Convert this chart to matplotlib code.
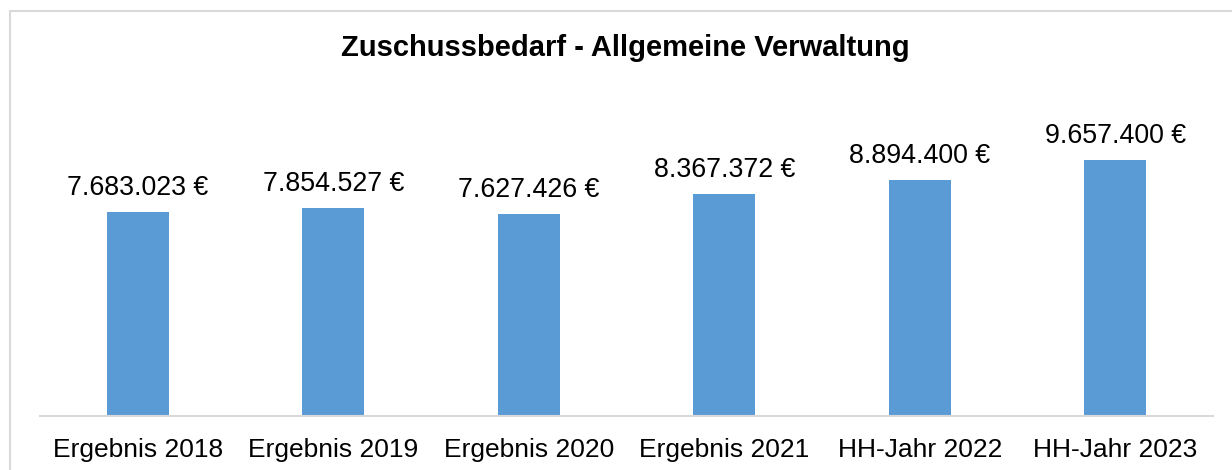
import matplotlib
matplotlib.use('Agg')
import matplotlib.pyplot as plt
from matplotlib.patches import Rectangle

categories = ['Ergebnis 2018', 'Ergebnis 2019', 'Ergebnis 2020',
              'Ergebnis 2021', 'HH-Jahr 2022', 'HH-Jahr 2023']
values = [7683023, 7854527, 7627426, 8367372, 8894400, 9657400]
title = 'Zuschussbedarf - Allgemeine Verwaltung'


def fmt_eur(v):
    return f"{v:,.0f}".replace(',', '.') + ' €'


plt.rcParams['font.family'] = ['Liberation Sans', 'DejaVu Sans']

W, H = 1232, 470
fig = plt.figure(figsize=(W / 100, H / 100), dpi=100)

# outer chart border (cut off at right/bottom like the source)
fig.patches.append(Rectangle((10 / W, -0.1), 1.2, 1 - 11 / H + 0.1,
                             transform=fig.transFigure, fill=False,
                             edgecolor='#d9d9d9', linewidth=1.5))

ax = fig.add_axes([40 / W, 1 - 416 / H, (1213 - 40) / W, (416 - 98) / H])
x = range(len(categories))
bars = ax.bar(x, values, width=0.317, color='#5b9bd5')

ax.set_ylim(0, 12000000)
ax.set_xlim(-0.5, len(categories) - 0.5)
ax.set_xticks(list(x))
ax.set_xticklabels(categories, fontsize=19)
ax.tick_params(axis='x', length=0, pad=16)
ax.set_yticks([])
for s in ['top', 'left', 'right']:
    ax.spines[s].set_visible(False)
ax.spines['bottom'].set_color('#d9d9d9')
ax.spines['bottom'].set_linewidth(1.5)

for b, v in zip(bars, values):
    ax.annotate(fmt_eur(v), (b.get_x() + b.get_width() / 2, v),
                xytext=(0, 8), textcoords='offset points',
                ha='center', va='bottom', fontsize=19.3)

fig.text(625 / W, 1 - 48 / H, title, ha='center', va='center',
         fontsize=21, fontweight='bold')

fig.savefig('out.png', dpi=100, facecolor='white')
